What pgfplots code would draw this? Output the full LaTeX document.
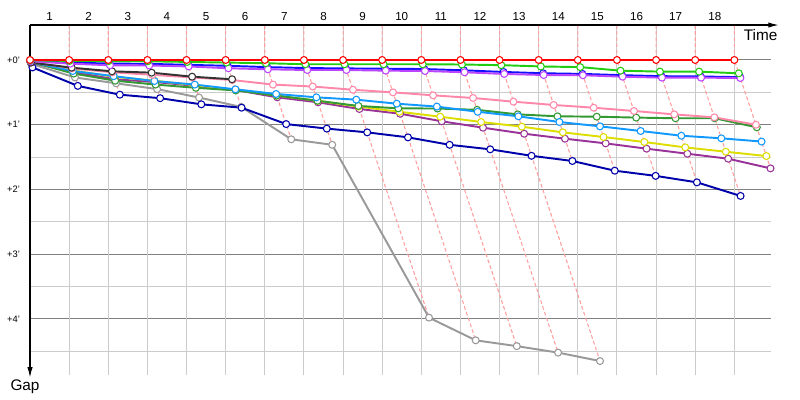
\documentclass[border=0pt]{standalone}
\usepackage{fontspec}
\setmainfont{Liberation Sans}
\usepackage{pgfplots}
\pgfplotsset{compat=1.18}
\usepackage{pgfplotstable}
\usetikzlibrary{arrows.meta}

\definecolor{cRed}{HTML}{FF0000}
\definecolor{cGreen}{HTML}{22CC11}
\definecolor{cBlue}{HTML}{1010FF}
\definecolor{cViolet}{HTML}{BB44FF}
\definecolor{cBlack}{HTML}{333333}
\definecolor{cPink}{HTML}{FF88AA}
\definecolor{cDkGreen}{HTML}{339933}
\definecolor{cLtBlue}{HTML}{1199FF}
\definecolor{cYellow}{HTML}{DDDD00}
\definecolor{cPurple}{HTML}{993399}
\definecolor{cNavy}{HTML}{0000AA}
\definecolor{cGray}{HTML}{999999}
\definecolor{cDash}{HTML}{FF9F9F}
\definecolor{cGridLt}{HTML}{CCCCCC}
\definecolor{cGridDk}{HTML}{808080}

% lap, gap (minutes behind leader)
\pgfplotstableread{
lap gap
0 0
1 0
2 0
3 0
4 0
5 0
6 0
7 0
8 0
9 0
10 0
11 0
12 0
13 0
14 0
15 0
16 0
17 0
18 0
}\tRed
\pgfplotstableread{
lap gap
0 0.005
1 0.015
2 0.017
3 0.02
4 0.03
5 0.04
6 0.05
7 0.066
8 0.066
9 0.066
10 0.066
11 0.07
12 0.08
13 0.10
14 0.11
15 0.165
16 0.18
17 0.18
18 0.206
}\tGreen
\pgfplotstableread{
lap gap
0 0.01
1 0.04
2 0.055
3 0.06
4 0.075
5 0.09
6 0.11
7 0.125
8 0.13
9 0.135
10 0.14
11 0.16
12 0.185
13 0.205
14 0.215
15 0.235
16 0.25
17 0.255
18 0.265
}\tBlue
\pgfplotstableread{
lap gap
0 0.02
1 0.057
2 0.082
3 0.085
4 0.10
5 0.128
6 0.144
7 0.155
8 0.155
9 0.165
10 0.17
11 0.19
12 0.216
13 0.232
14 0.236
15 0.258
16 0.273
17 0.273
18 0.278
}\tViolet
\pgfplotstableread{
lap gap
0 0.04
1 0.119
2 0.175
3 0.196
4 0.258
5 0.298
}\tBlack
\pgfplotstableread{
lap gap
0 0.03
1 0.13
2 0.19
3 0.23
4 0.27
5 0.31
6 0.38
7 0.41
8 0.46
9 0.50
10 0.546
11 0.587
12 0.644
13 0.695
14 0.737
15 0.788
16 0.84
17 0.886
18 1.0
}\tPink
\pgfplotstableread{
lap gap
0 0.03
1 0.21
2 0.32
3 0.38
4 0.43
5 0.47
6 0.55
7 0.63
8 0.71
9 0.747
10 0.75
11 0.77
12 0.84
13 0.87
14 0.876
15 0.89
16 0.90
17 0.90
18 1.04
}\tDkGreen
\pgfplotstableread{
lap gap
0 0.03
1 0.17
2 0.25
3 0.325
4 0.38
5 0.453
6 0.525
7 0.577
8 0.613
9 0.675
10 0.72
11 0.80
12 0.87
13 0.958
14 1.025
15 1.097
16 1.17
17 1.21
18 1.26
}\tLtBlue
\pgfplotstableread{
lap gap
0 0.03
1 0.16
2 0.26
3 0.32
4 0.39
5 0.46
6 0.55
7 0.63
8 0.72
9 0.80
10 0.876
11 0.958
12 1.03
13 1.118
14 1.19
15 1.267
16 1.35
17 1.417
18 1.484
}\tYellow
\pgfplotstableread{
lap gap
0 0.04
1 0.185
2 0.298
3 0.34
4 0.40
5 0.464
6 0.577
7 0.654
8 0.757
9 0.83
10 0.947
11 1.046
12 1.139
13 1.216
14 1.288
15 1.37
16 1.448
17 1.525
18 1.674
}\tPurple
\pgfplotstableread{
lap gap
0 0.115
1 0.40
2 0.536
3 0.59
4 0.685
5 0.737
6 0.99
7 1.06
8 1.118
9 1.195
10 1.31
11 1.38
12 1.48
13 1.56
14 1.71
15 1.79
16 1.89
17 2.10
}\tNavy
\pgfplotstableread{
lap gap
0 0.06
1 0.27
2 0.36
3 0.45
4 0.58
5 0.726
6 1.225
7 1.31
8 3.98
9 4.33
10 4.42
11 4.52
12 4.65
}\tGray

\pgfplotsset{
  ser/.style={line width=1.45pt, color=#1, mark=*, mark size=2.6pt,
    mark options={fill=white, draw=#1, line width=0.8pt, solid}},
  lapdash/.style={color=cDash, line width=0.8pt, dash pattern=on 2.8pt off 1.8pt},
}

% lap line: vertical above the leader, then through that lap's points
% down to the last car on the lap (args: lap, last car's gap)
\newcommand{\lapline}[2]{%
  \addplot[lapdash] table[row sep=\\,
    x expr={\thisrow{lap}+0.552*max(\thisrow{gap},0)},
    y expr={-\thisrow{gap}}] {lap gap\\ #1 -0.54\\ #1 0\\ #1 #2\\};}

\begin{document}
\begin{tikzpicture}
\begin{axis}[
  x=29.35pt, y=48.56pt,
  xmin=0, xmax=18.94, ymin=-4.87, ymax=0.54,
  axis line style={draw=none},
  clip=false,
  xtick={0.5,1.5,...,17.5},
  xticklabels={1,2,3,4,5,6,7,8,9,10,11,12,13,14,15,16,17,18},
  xticklabel pos=upper,
  x tick label style={font=\fontsize{8.7}{10}\selectfont, yshift=-0.3pt},
  extra x ticks={1,2,...,18},
  extra x tick labels={},
  extra x tick style={grid=major, major grid style={color=cGridLt, line width=0.75pt}},
  ytick={0,-1,-2,-3,-4},
  yticklabels={+0',+1',+2',+3',+4'},
  y tick label style={font=\fontsize{7}{8}\selectfont, xshift=-4pt},
  minor ytick={-0.5,-1.5,-2.5,-3.5,-4.5},
  ymajorgrids, yminorgrids,
  major y grid style={color=cGridDk, line width=0.75pt},
  minor y grid style={color=cGridLt, line width=0.75pt},
  major tick length=0pt, minor tick length=0pt,
  tick style={draw=none},
]
\lapline{1}{0.40}
\lapline{2}{0.536}
\lapline{3}{0.59}
\lapline{4}{0.685}
\lapline{5}{0.737}
\lapline{6}{1.225}
\lapline{7}{1.31}
\lapline{8}{3.98}
\lapline{9}{4.33}
\lapline{10}{4.42}
\lapline{11}{4.52}
\lapline{12}{4.65}
\lapline{13}{1.56}
\lapline{14}{1.71}
\lapline{15}{1.79}
\lapline{16}{1.89}
\lapline{17}{2.10}
\lapline{18}{1.674}

% series
\def\XE{\thisrow{lap}+0.552*\thisrow{gap}}
\addplot[ser=cGray] table[x expr={\XE}, y expr={-\thisrow{gap}}] {\tGray};
\addplot[ser=cNavy] table[x expr={\XE}, y expr={-\thisrow{gap}}] {\tNavy};
\addplot[ser=cPurple] table[x expr={\XE}, y expr={-\thisrow{gap}}] {\tPurple};
\addplot[ser=cYellow] table[x expr={\XE}, y expr={-\thisrow{gap}}] {\tYellow};
\addplot[ser=cDkGreen] table[x expr={\XE}, y expr={-\thisrow{gap}}] {\tDkGreen};
\addplot[ser=cLtBlue] table[x expr={\XE}, y expr={-\thisrow{gap}}] {\tLtBlue};
\addplot[ser=cPink] table[x expr={\XE}, y expr={-\thisrow{gap}}] {\tPink};
\addplot[ser=cBlack] table[x expr={\XE}, y expr={-\thisrow{gap}}] {\tBlack};
\addplot[ser=cBlue] table[x expr={\XE}, y expr={-\thisrow{gap}}] {\tBlue};
\addplot[ser=cViolet] table[x expr={\XE}, y expr={-\thisrow{gap}}] {\tViolet};
\addplot[ser=cGreen] table[x expr={\XE}, y expr={-\thisrow{gap}}] {\tGreen};
\addplot[ser=cRed] table[x expr={\XE}, y expr={-\thisrow{gap}}] {\tRed};

% axes with arrows
\draw[line width=1pt, -{Latex[length=8pt, width=4pt]}] (axis cs:0,0.54) -- (axis cs:19.14,0.54);
\draw[line width=1pt, -{Latex[length=8pt, width=4pt]}] (axis cs:0,0.54) -- (axis cs:0,-4.91);
\node[font=\fontsize{11.5}{13}\selectfont] at (axis cs:18.67,0.386) {Time};
\node[font=\fontsize{11.5}{13}\selectfont] at (axis cs:-0.128,-5.04) {Gap};

\coordinate (BBsw) at (axis cs:-0.7667,-5.251);
\coordinate (BBne) at (axis cs:19.678,0.9266);
\end{axis}
\pgfresetboundingbox
\useasboundingbox (BBsw) rectangle (BBne);
\end{tikzpicture}
\end{document}
